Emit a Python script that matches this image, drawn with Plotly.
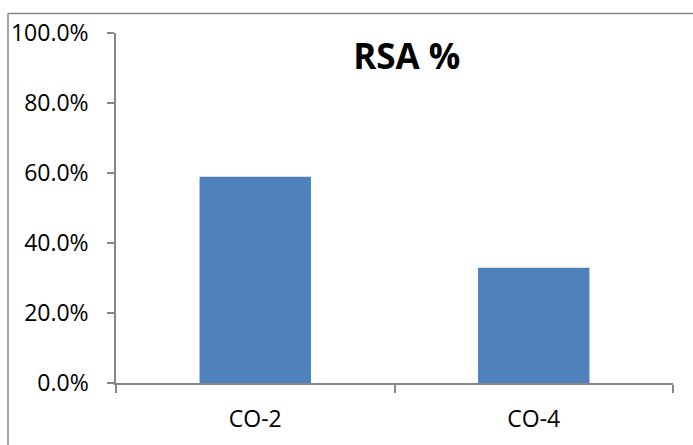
import plotly.graph_objects as go

categories = ["CO-2", "CO-4"]
rsa_values = [0.589, 0.329]
y_ticks = [0, 0.2, 0.4, 0.6, 0.8, 1.0]

AX = "#868686"
fig = go.Figure()
fig.add_trace(go.Bar(x=categories, y=rsa_values, marker=dict(color="#4F81BD", line=dict(width=0)), width=0.4))

fig.update_layout(
    width=693, height=445,
    margin=dict(l=116, r=20, t=32.5, b=62),
    paper_bgcolor="white", plot_bgcolor="white",
    showlegend=False,
    font=dict(family="Open Sans", size=23, color="black"),
    title=dict(text="<b>RSA %</b>", x=0.587, xanchor="center", y=0.873, yanchor="middle",
               font=dict(family="Open Sans", size=35, color="black")),
    xaxis=dict(type="category", showline=True, linecolor=AX, linewidth=1.5, ticks="outside",
               tickson="boundaries", ticklen=8, tickcolor=AX, tickwidth=1.5, showgrid=False,
               ticklabelstandoff=15, zeroline=False),
    yaxis=dict(range=[0, 1], tickvals=y_ticks, tickformat=".1%", showline=True, linecolor=AX,
               linewidth=1.5, ticks="outside", ticklen=7, tickcolor=AX, tickwidth=1.5,
               showgrid=False, zeroline=False, ticklabelstandoff=14),
    shapes=[
        dict(type="line", xref="paper", yref="paper", x0=-0.1939, x1=-0.1939, y0=1.0556, y1=-0.2,
             line=dict(color=AX, width=1.5)),
        dict(type="line", xref="paper", yref="paper", x0=-0.1939, x1=1.1, y0=1.0556, y1=1.0556,
             line=dict(color=AX, width=1.5)),
    ],
)
fig.write_html("out.html", config={"displayModeBar": False},
               post_script="document.body.style.margin='0';document.body.style.overflow='hidden';")
